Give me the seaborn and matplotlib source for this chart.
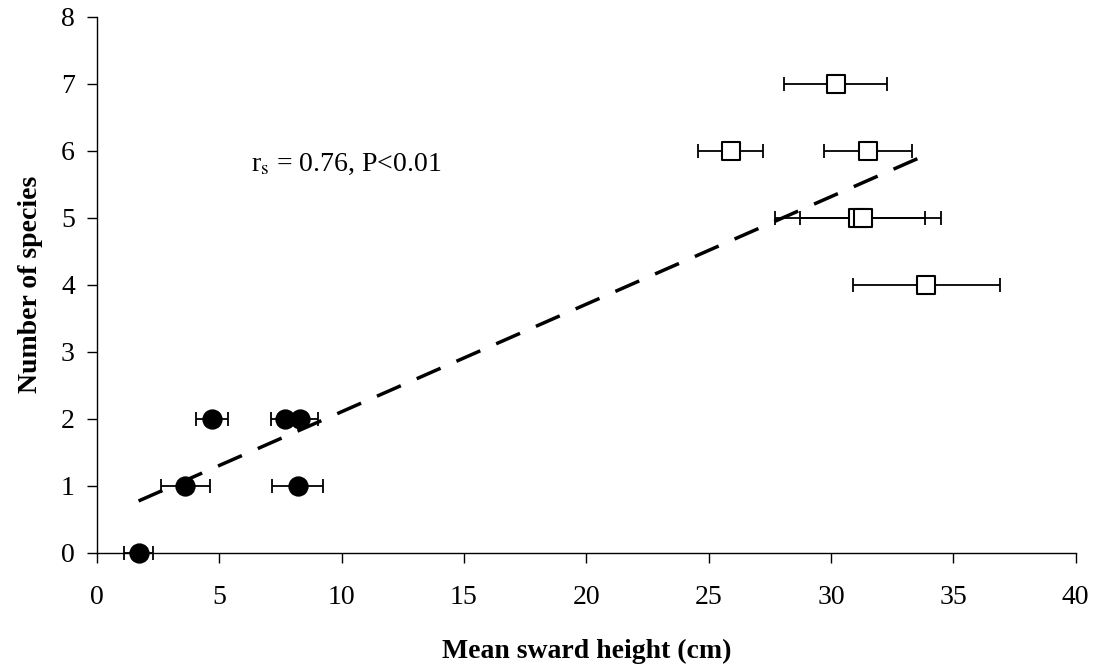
import matplotlib
matplotlib.use("Agg")
import matplotlib.pyplot as plt
import numpy as np
import pandas as pd
import seaborn as sns

# short sward sites (filled circles)
short_height = [1.7, 3.6, 4.7, 7.7, 8.3, 8.2]
short_species = [0, 1, 2, 2, 2, 1]
short_err = [0.6, 1.0, 0.65, 0.6, 0.75, 1.03]

# tall sward sites (open squares)
tall_height = [30.2, 25.9, 31.5, 31.1, 31.3, 33.9]
tall_species = [7, 6, 6, 5, 5, 4]
tall_err = [2.1, 1.32, 1.8, 3.4, 2.55, 3.0]

x_ticks = [0, 5, 10, 15, 20, 25, 30, 35, 40]
y_ticks = [0, 1, 2, 3, 4, 5, 6, 7, 8]
stat_text = r"r$_\mathrm{s}$ = 0.76, P<0.01"

short_df = pd.DataFrame({"height": short_height, "species": short_species})
tall_df = pd.DataFrame({"height": tall_height, "species": tall_species})
all_df = pd.concat([short_df, tall_df], ignore_index=True)

sns.set_style("ticks")
plt.rcParams["font.family"] = ["Liberation Serif", "DejaVu Serif"]
plt.rcParams["mathtext.fontset"] = "stix"
plt.rcParams["text.color"] = "black"
plt.rcParams["axes.labelcolor"] = "black"

fig, ax = plt.subplots(figsize=(11.02, 6.70), dpi=100)
fig.subplots_adjust(left=0.088, right=0.976, bottom=0.175, top=0.975)

# horizontal error bars
for xs, ys, errs in [(short_height, short_species, short_err),
                     (tall_height, tall_species, tall_err)]:
    eb = ax.errorbar(xs, ys, xerr=errs, fmt="none", ecolor="black",
                     elinewidth=1.3, capsize=5, capthick=1.3, zorder=2)
    for art in eb.lines[1] + eb.lines[2]:
        art.set_clip_on(False)

# regression line across all sites
sns.regplot(data=all_df, x="height", y="species", scatter=False, ci=None,
            ax=ax, color="black",
            line_kws={"linewidth": 2.5, "dashes": (7.5, 5), "zorder": 4})

sns.scatterplot(data=short_df, x="height", y="species", ax=ax, marker="o",
                s=180, color="black", edgecolor="black", linewidth=1.2,
                zorder=3, clip_on=False)
sns.scatterplot(data=tall_df, x="height", y="species", ax=ax, marker="s",
                s=180, facecolor="white", edgecolor="black", linewidth=1.5,
                zorder=3, clip_on=False)

ax.text(6.3, 5.8, stat_text, fontsize=20, va="center", ha="left")

ax.set_xlim(0, 40)
ax.set_ylim(0, 8)
ax.set_xticks(x_ticks)
ax.set_yticks(y_ticks)
ax.tick_params(axis="both", direction="out", length=7, width=1, labelsize=20,
               colors="black")
ax.tick_params(axis="x", pad=16)
ax.tick_params(axis="y", pad=9)
for side in ["left", "bottom"]:
    ax.spines[side].set_color("black")
    ax.spines[side].set_linewidth(1)
sns.despine(ax=ax)

ax.set_xlabel("Mean sward height (cm)", fontsize=20, fontweight="bold", labelpad=21)
ax.set_ylabel("Number of species", fontsize=20, fontweight="bold", labelpad=13)

fig.savefig("out.png", dpi=100)
